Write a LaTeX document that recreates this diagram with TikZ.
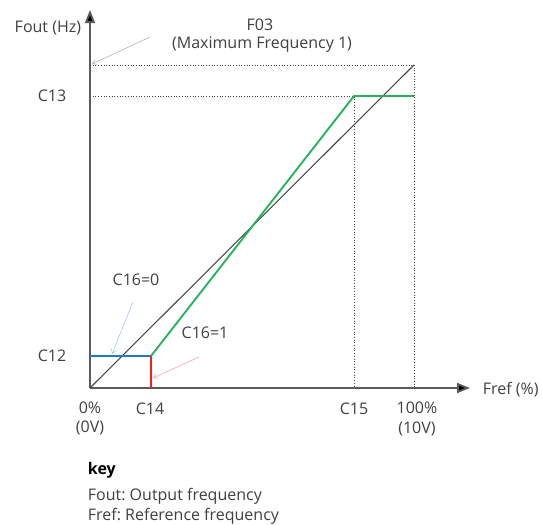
\documentclass[tikz,border=0pt]{standalone}
\usepackage{fontspec}
\setmainfont{Open Sans}
\frenchspacing
\usetikzlibrary{arrows.meta}
\definecolor{axisgray}{RGB}{90,90,90}
\definecolor{txtgray}{RGB}{64,64,64}
\definecolor{lnGreen}{RGB}{40,180,90}
\definecolor{lnBlue}{RGB}{30,120,210}
\definecolor{lnRed}{RGB}{250,30,30}
\tikzset{
  lbl/.style={inner sep=0.75pt, text=txtgray, font=\fontsize{16}{18}\selectfont},
  axisline/.style={draw=axisgray, line width=1.8pt, -{Triangle[length=13pt,width=10pt,fill=black]}},
  guide/.style={draw=black!75, line width=0.7pt, dotted},
  leader/.style={line width=0.6pt, -{Straight Barb[length=4pt,width=5pt]}}
}

\begin{document}
\begin{tikzpicture}[x=1pt,y=1pt,yscale=-1,xscale=1]
\useasboundingbox (0,0) rectangle (542,525);

%Points of the plot
\coordinate (orig) at (90,388);
\coordinate (ytip) at (90,10);
\coordinate (xtip) at (470,388);
\coordinate (fmax) at (90,65);
\coordinate (cornr) at (414,65);
\coordinate (full) at (414,388);
\coordinate (c13) at (90,96);
\coordinate (c15top) at (354,96);
\coordinate (c13end) at (414,96);
\coordinate (c15) at (354,388);
\coordinate (c12) at (90,356);
\coordinate (c14top) at (151,356);
\coordinate (c14) at (151,388);

%Shape: dotted guides
\draw [guide] (fmax) -- (cornr) -- (full) ;
\draw [guide] (c13) -- (c15top) -- (c15) ;

%Shape: Axes
\draw [axisline] (orig) -- (ytip) ;
\draw [axisline] (orig) -- (xtip) ;

%Shape: Line (Fout = Fref)
\draw [color=black!70, line width=1.1pt] (orig) -- (cornr) ;
%Shape: Line (C16=1)
\draw [color=lnGreen, line width=1.9pt] (c14top) -- (c15top) -- (c13end) ;
%Shape: Line (C16=0)
\draw [color=lnBlue, line width=1.9pt] (c12) -- (c14top) ;
\draw [color=lnRed, line width=1.9pt] (c14top) -- (c14) ;

% Text Node
\draw (82,28) node (lblFout) [lbl, anchor=east] {Fout (Hz)};
% Text Node
\draw (260,25) node (lblF03) [lbl] {F03};
% Text Node
\draw (262,45) node (lblMax) [lbl] {(Maximum Frequency 1)};
% Text Node
\draw (52,96) node (lblC13) [lbl] {C13};
% Text Node
\draw (52,356) node (lblC12) [lbl] {C12};
% Text Node
\draw (136,280) node (lblZero) [lbl] {C16=0};
% Text Node
\draw (205,333) node (lblOne) [lbl] {C16=1};
% Text Node
\draw (90,408) node (lblPct0) [lbl] {0\%};
% Text Node
\draw (90,428) node (lblV0) [lbl] {(0V)};
% Text Node
\draw (150,409) node (lblC14) [lbl] {C14};
% Text Node
\draw (354,409) node (lblC15) [lbl] {C15};
% Text Node
\draw (417,408) node (lblPct100) [lbl] {100\%};
% Text Node
\draw (417,429) node (lblV10) [lbl] {(10V)};
% Text Node
\draw (482,390) node (lblFref) [lbl, anchor=west] {Fref (\%)};
% Text Node
\draw (87,470) node (lblKey) [lbl, anchor=west, text=black] {\textbf{key}};
% Text Node
\draw (87,496) node (lblKeyA) [lbl, anchor=west] {Fout: Output frequency};
% Text Node
\draw (87,516) node (lblKeyB) [lbl, anchor=west] {Fref: Reference frequency};

%Shape: leader lines
\coordinate (ldA) at (150,37);
\coordinate (ldB) at (133,302);
\coordinate (ldBend) at (112,354);
\coordinate (ldC) at (199,357);
\coordinate (ldCend) at (153,378);
\coordinate (ldAend) at (92,64);
\draw [leader, color=black!30] (ldA) -- (ldAend) ;
\draw [leader, color=lnBlue!40] (ldB) -- (ldBend) ;
\draw [leader, color=lnRed!40] (ldC) -- (ldCend) ;

\end{tikzpicture}
\end{document}
